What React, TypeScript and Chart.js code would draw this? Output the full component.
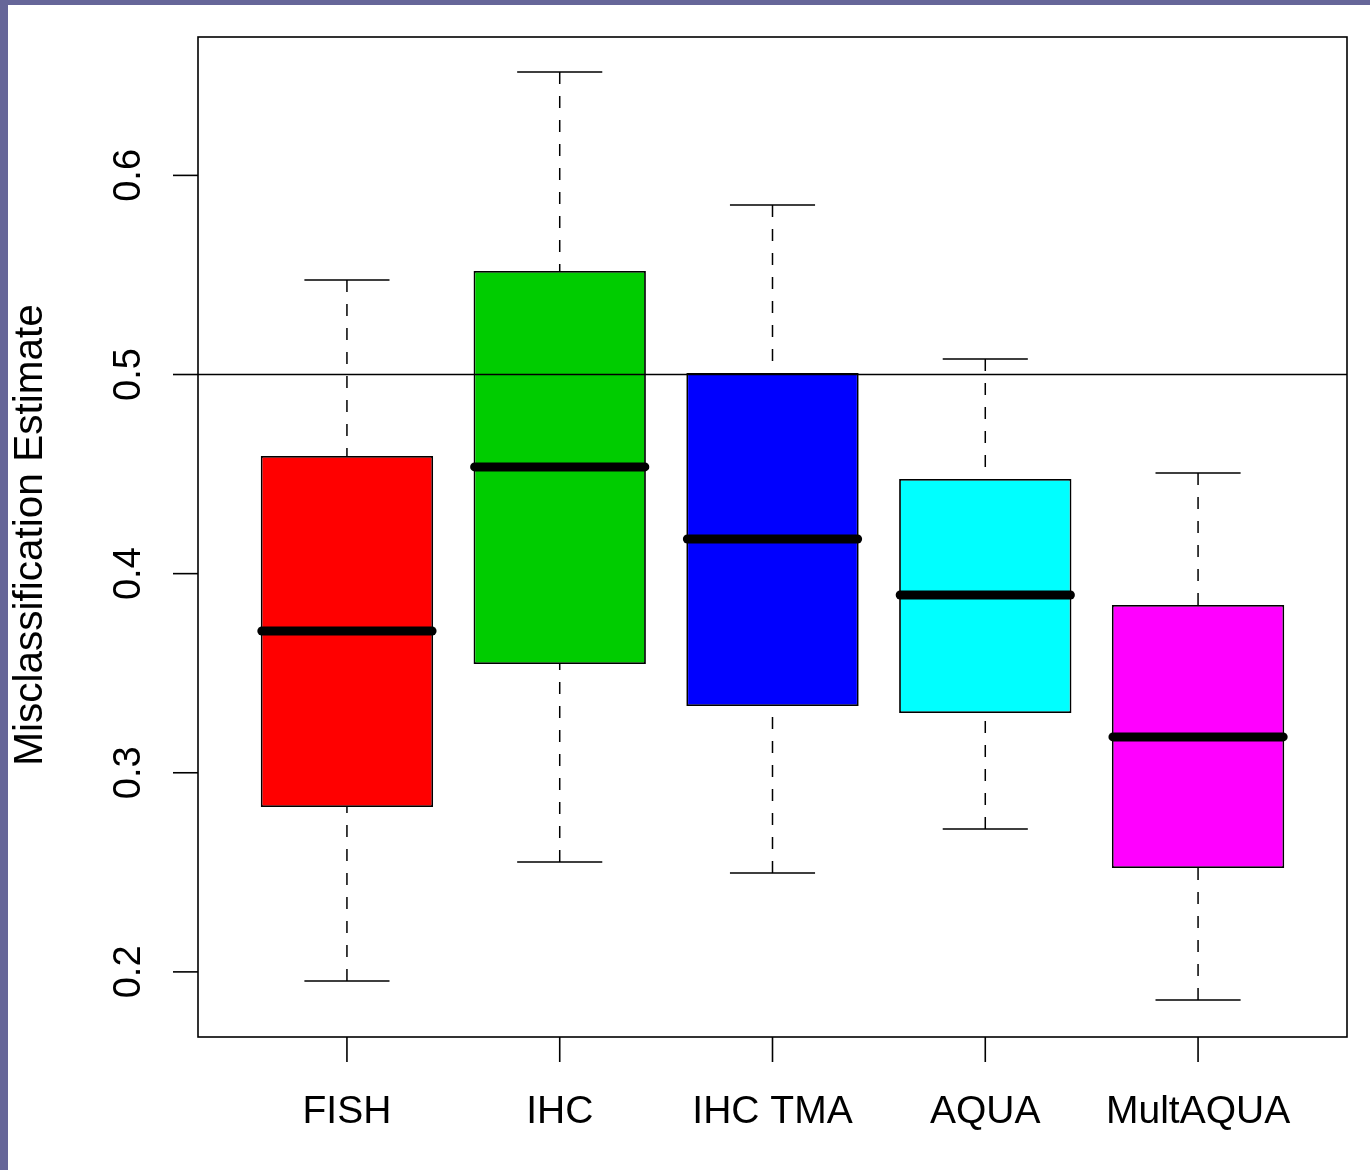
import React, { useEffect, useRef } from "react";
import { Chart, registerables } from "chart.js";

Chart.register(...registerables);

const categories = ["FISH", "IHC", "IHC TMA", "AQUA", "MultAQUA"];
const whiskerLow = [0.1954, 0.2552, 0.2497, 0.2718, 0.1859];
const q1 = [0.2828, 0.3546, 0.3335, 0.33, 0.2522];
const median = [0.3712, 0.4536, 0.4174, 0.3893, 0.318];
const q3 = [0.4591, 0.552, 0.5008, 0.4475, 0.3843];
const whiskerHigh = [0.5475, 0.6519, 0.5851, 0.5078, 0.4505];
const boxColors = ["#FF0000", "#00CC00", "#0000FF", "#00FFFF", "#FF00FF"];
const yTicks = [0.2, 0.3, 0.4, 0.5, 0.6];
const yTickLabels = ["0.2", "0.3", "0.4", "0.5", "0.6"];
const referenceLine = 0.5;
const yTitle = "Misclassification Estimate";

const FONT = "'Liberation Sans', Arial, sans-serif";

const boxPlotPlugin = {
  id: "rBoxPlot",
  afterDatasetsDraw(chart: any) {
    const ctx = chart.ctx as CanvasRenderingContext2D;
    const xs = chart.scales.x;
    const ys = chart.scales.y;
    const area = chart.chartArea;
    ctx.save();
    ctx.strokeStyle = "#000";
    ctx.lineWidth = 1.5;
    ctx.lineCap = "butt";
    categories.forEach((_, i) => {
      const v = i + 1;
      const cx = xs.getPixelForValue(v);
      const capL = xs.getPixelForValue(v - 0.2);
      const capR = xs.getPixelForValue(v + 0.2);
      // whiskers (dashed, starting from the extremes)
      ctx.setLineDash([12, 12]);
      ctx.beginPath();
      ctx.moveTo(cx, ys.getPixelForValue(whiskerHigh[i]));
      ctx.lineTo(cx, ys.getPixelForValue(q3[i]));
      ctx.stroke();
      ctx.beginPath();
      ctx.moveTo(cx, ys.getPixelForValue(whiskerLow[i]));
      ctx.lineTo(cx, ys.getPixelForValue(q1[i]));
      ctx.stroke();
      ctx.setLineDash([]);
      // caps
      ctx.beginPath();
      ctx.moveTo(capL, ys.getPixelForValue(whiskerHigh[i]));
      ctx.lineTo(capR, ys.getPixelForValue(whiskerHigh[i]));
      ctx.moveTo(capL, ys.getPixelForValue(whiskerLow[i]));
      ctx.lineTo(capR, ys.getPixelForValue(whiskerLow[i]));
      ctx.stroke();
      // median
      ctx.save();
      ctx.lineWidth = 9;
      ctx.lineCap = "round";
      ctx.beginPath();
      ctx.moveTo(xs.getPixelForValue(v - 0.4), ys.getPixelForValue(median[i]));
      ctx.lineTo(xs.getPixelForValue(v + 0.4), ys.getPixelForValue(median[i]));
      ctx.stroke();
      ctx.restore();
    });
    // reference line
    const yr = ys.getPixelForValue(referenceLine);
    ctx.lineWidth = 1.3;
    ctx.beginPath();
    ctx.moveTo(area.left, yr);
    ctx.lineTo(area.right, yr);
    ctx.stroke();
    ctx.restore();
  },
  afterDraw(chart: any) {
    const ctx = chart.ctx as CanvasRenderingContext2D;
    const xs = chart.scales.x;
    const ys = chart.scales.y;
    const area = chart.chartArea;
    ctx.save();
    ctx.strokeStyle = "#000";
    ctx.fillStyle = "#000";
    ctx.lineWidth = 1.6;
    ctx.strokeRect(area.left, area.top, area.right - area.left, area.bottom - area.top);
    // y ticks
    ctx.font = `38px ${FONT}`;
    ctx.textAlign = "center";
    ctx.textBaseline = "alphabetic";
    yTicks.forEach((t, i) => {
      const y = ys.getPixelForValue(t);
      ctx.beginPath();
      ctx.moveTo(area.left - 25, y);
      ctx.lineTo(area.left, y);
      ctx.stroke();
      ctx.save();
      ctx.translate(area.left - 58, y);
      ctx.rotate(-Math.PI / 2);
      ctx.fillText(yTickLabels[i], 0, 0);
      ctx.restore();
    });
    // y title
    ctx.save();
    ctx.font = `40.5px ${FONT}`;
    ctx.translate(34, (area.top + area.bottom) / 2 - 2);
    ctx.rotate(-Math.PI / 2);
    ctx.fillText(yTitle, 0, 0);
    ctx.restore();
    // x ticks
    ctx.font = `39px ${FONT}`;
    categories.forEach((c, i) => {
      const x = xs.getPixelForValue(i + 1);
      ctx.beginPath();
      ctx.moveTo(x, area.bottom);
      ctx.lineTo(x, area.bottom + 25);
      ctx.stroke();
      ctx.fillText(c, x, area.bottom + 86);
    });
    ctx.restore();
  },
};

export default function App() {
  const ref = useRef<HTMLCanvasElement | null>(null);
  useEffect(() => {
    if (!ref.current) return;
    const chart = new Chart(ref.current, {
      type: "bar",
      data: {
        datasets: [
          {
            data: categories.map((_, i) => ({ x: i + 1, y: [q1[i], q3[i]] })) as any,
            backgroundColor: boxColors,
            borderColor: "#000",
            borderWidth: 1.8,
            borderSkipped: false,
            categoryPercentage: 0.81,
            barPercentage: 1,
          } as any,
        ],
      },
      options: {
        animation: false,
        responsive: false,
        devicePixelRatio: 1,
        layout: { padding: { left: 190, top: 32, right: 23, bottom: 133 } },
        plugins: { legend: { display: false }, tooltip: { enabled: false } },
        scales: {
          x: {
            type: "linear",
            min: 0.3,
            max: 5.7,
            offset: false,
            display: false,
            ticks: { stepSize: 1, includeBounds: false },
          },
          y: {
            type: "linear",
            min: 0.1673,
            max: 0.6695,
            display: false,
          },
        },
      },
      plugins: [boxPlotPlugin],
    });
    return () => chart.destroy();
  }, []);
  return (
    <div
      style={{
        position: "absolute",
        left: 0,
        top: 0,
        width: 1370,
        height: 1170,
        background: "#666699",
      }}
    >
      <canvas
        ref={ref}
        width={1362}
        height={1165}
        style={{ position: "absolute", left: 8, top: 5, width: 1362, height: 1165, background: "#fff" }}
      />
    </div>
  );
}
